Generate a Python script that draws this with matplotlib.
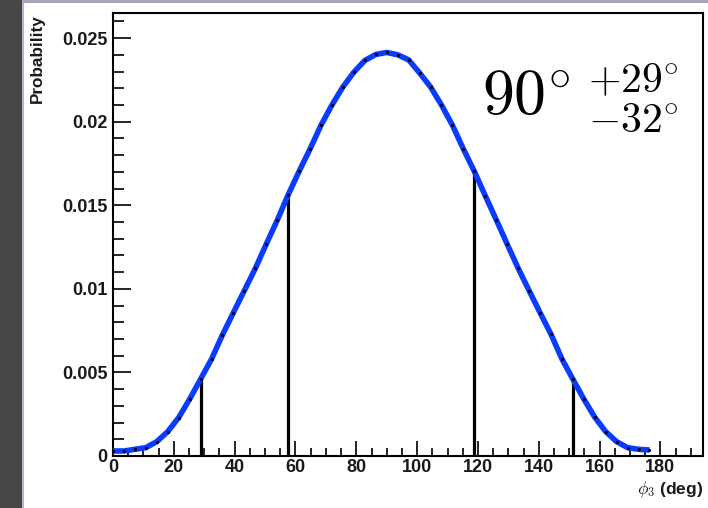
import matplotlib
matplotlib.use("Agg")
import matplotlib.pyplot as plt
from matplotlib.patches import Rectangle
from matplotlib.ticker import MultipleLocator, FixedLocator
import numpy as np

# ---------------------------------------------------------------------------
# Data
# ---------------------------------------------------------------------------
phi3 = np.arange(50) * 3.6          # bin positions, deg
prob = [0.0003, 0.0003, 0.0004, 0.0005, 0.00086, 0.00146, 0.0023, 0.0034,
        0.0046, 0.0058, 0.00725, 0.00858, 0.0099, 0.01122, 0.01268, 0.0141,
        0.01563, 0.01703, 0.01837, 0.01979, 0.0210, 0.02208, 0.02296, 0.02366,
        0.02402, 0.02414, 0.0240, 0.0237, 0.02292, 0.02208, 0.0210, 0.01979,
        0.01837, 0.01703, 0.01557, 0.01414, 0.01268, 0.01124, 0.0099, 0.00858,
        0.00729, 0.00581, 0.0046, 0.00341, 0.00232, 0.00146, 0.00086, 0.0005,
        0.0004, 0.00036]
interval_edges = [28.8, 57.6, 118.8, 151.2]
x_ticks = [0, 20, 40, 60, 80, 100, 120, 140, 160, 180]
y_ticks = [0, 0.005, 0.01, 0.015, 0.02, 0.025]
y_tick_labels = ["0", "0.005", "0.01", "0.015", "0.02", "0.025"]

BLUE = "#0a3cff"
INK = "#1a1a1a"
DPI = 100

plt.rcParams["mathtext.fontset"] = "cm"
fig = plt.figure(figsize=(7.08, 5.08), dpi=DPI, facecolor="white")

# screenshot border bits (dark strip left, thin band on top)
fig.patches.append(Rectangle((0, 0), 22 / 708, 1, transform=fig.transFigure,
                             facecolor="#474747", edgecolor="none", zorder=0))
fig.patches.append(Rectangle((22 / 708, 0), 2 / 708, 1, transform=fig.transFigure,
                             facecolor="#b8b4d0", edgecolor="none", zorder=0))
fig.patches.append(Rectangle((22 / 708, 1 - 3 / 508), 1, 3 / 508, transform=fig.transFigure,
                             facecolor="#a8a4bc", edgecolor="none", zorder=0))

ax = fig.add_axes([113 / 708, 52 / 508, 590 / 708, 443 / 508])
ax.set_xlim(0, 194)
ax.set_ylim(0, 0.0265)

# interval markers
heights = np.interp(interval_edges, phi3, prob)
ax.vlines(interval_edges, 0, heights, colors="black", linewidth=2.3, zorder=2)

# curve + points
ax.plot(phi3, prob, color=BLUE, linewidth=4.0, zorder=3, solid_capstyle="butt")
ax.plot(phi3, prob, "o", color="black", markersize=1.3, zorder=4)

# ticks
ax.xaxis.set_major_locator(FixedLocator(x_ticks))
ax.xaxis.set_minor_locator(MultipleLocator(5))
ax.yaxis.set_major_locator(FixedLocator(y_ticks))
ax.yaxis.set_minor_locator(MultipleLocator(0.001))
ax.set_yticklabels(y_tick_labels)
ax.tick_params(which="both", direction="in", top=False, right=False,
               labelsize=13, width=1.2, color="black")
ax.tick_params(axis="x", which="major", length=11, pad=2)
ax.tick_params(axis="x", which="minor", length=6)
ax.tick_params(axis="y", which="major", length=13, pad=4)
ax.tick_params(axis="y", which="minor", length=8)
for lab in ax.get_xticklabels() + ax.get_yticklabels():
    lab.set_fontfamily("Liberation Sans")
    lab.set_fontweight("bold")
    lab.set_color(INK)

for sp in ax.spines.values():
    sp.set_linewidth(1.5)
    sp.set_color("black")

# axis titles, right/top adjusted like ROOT
fig.text(37 / 708, 1 - 14 / 508, "Probability", rotation=90, ha="center", va="top",
         fontsize=12.3, fontweight="bold", family="Liberation Sans", color=INK)
fig.text(703 / 708, 1 - 489 / 508, r"$\phi_{3}$ (deg)", ha="right", va="center",
         fontsize=12.5, fontweight="bold", family="Liberation Sans", color=INK)

# result annotation
ax.text(482 / 708, 1 - 97 / 508, r"$90^{\circ}$", transform=fig.transFigure,
        ha="left", va="center", fontsize=46, color="black")
ax.text(588 / 708, 1 - 80 / 508, r"$+29^{\circ}$", transform=fig.transFigure,
        ha="left", va="center", fontsize=30, color="black")
ax.text(588 / 708, 1 - 121 / 508, r"$-32^{\circ}$", transform=fig.transFigure,
        ha="left", va="center", fontsize=30, color="black")

fig.savefig("out.png", dpi=DPI, facecolor="white")
plt.close(fig)
